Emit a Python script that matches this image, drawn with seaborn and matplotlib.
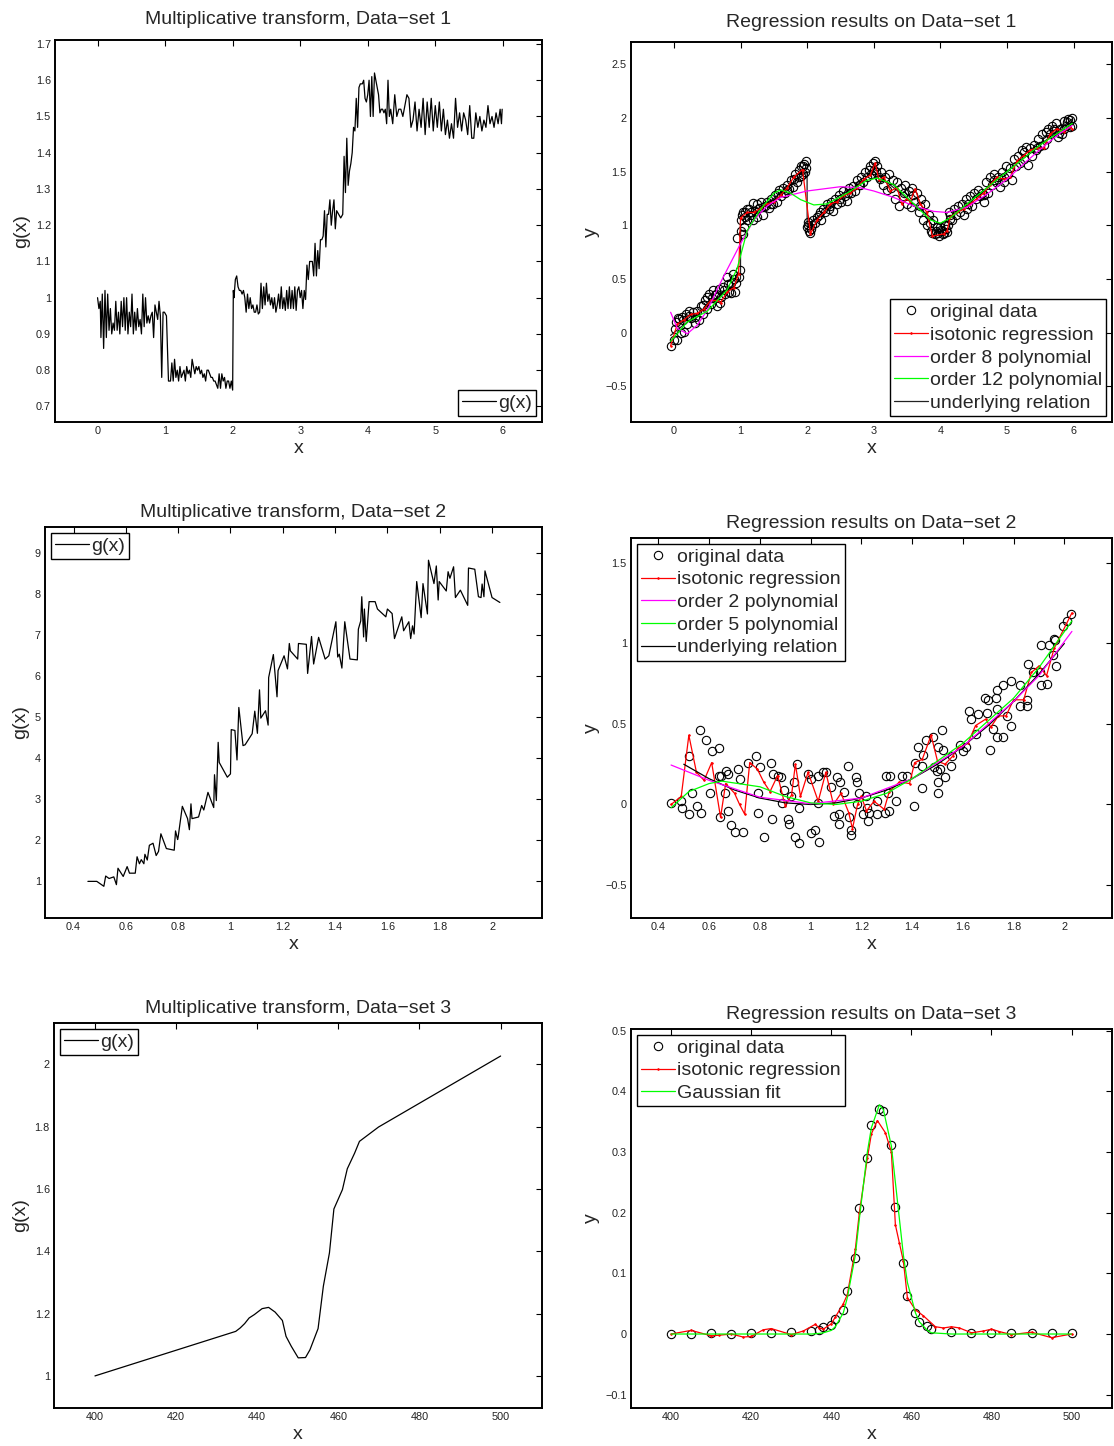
import matplotlib
matplotlib.use("Agg")
import matplotlib.pyplot as plt
import matplotlib.ticker as mticker
import seaborn as sns

sns.set_style("white")
plt.rcParams['font.family'] = ['Liberation Sans', 'DejaVu Sans']
plt.rcParams['axes.unicode_minus'] = True

# ---------------- Data-set 1 : multiplicative transform g(x) ----------------
g1_x = [0.00, 0.02, 0.04, 0.05, 0.07, 0.09, 0.11, 0.13, 0.15, 0.17, 0.19, 0.21, 0.23, 0.25, 0.27, 0.29,
        0.31, 0.33, 0.35, 0.37, 0.39, 0.41, 0.43, 0.45, 0.47, 0.49, 0.51, 0.53, 0.55, 0.57, 0.59, 0.61,
        0.63, 0.65, 0.67, 0.69, 0.71, 0.73, 0.75, 0.77, 0.79, 0.81, 0.83, 0.85, 0.87, 0.89, 0.91, 0.93,
        0.95, 0.97, 0.99, 1.02, 1.05,
        1.08, 1.10, 1.12, 1.14, 1.16, 1.18, 1.20, 1.22, 1.24, 1.26, 1.28, 1.30, 1.32, 1.34, 1.36, 1.38,
        1.40, 1.42, 1.44, 1.46, 1.48, 1.50, 1.52, 1.54, 1.56, 1.58, 1.60, 1.62, 1.64, 1.66, 1.68, 1.70,
        1.72, 1.74, 1.76, 1.78, 1.80, 1.82, 1.84, 1.86, 1.88, 1.90, 1.92, 1.94, 1.96, 1.98, 2.00,
        2.01, 2.02, 2.04, 2.06, 2.08, 2.10, 2.12, 2.14, 2.16, 2.18, 2.20, 2.22, 2.24, 2.26, 2.28, 2.30,
        2.32, 2.34, 2.36, 2.38, 2.40, 2.42, 2.44, 2.46, 2.48, 2.50, 2.52, 2.54, 2.56, 2.58, 2.60, 2.62,
        2.64, 2.66, 2.68, 2.70, 2.72, 2.74, 2.76, 2.78, 2.80, 2.82, 2.84, 2.86, 2.88, 2.90, 2.92, 2.94,
        2.96, 2.98, 3.00, 3.02, 3.04, 3.06, 3.08,
        3.10, 3.12, 3.14, 3.16, 3.18, 3.20, 3.22, 3.24, 3.26, 3.28, 3.30, 3.32, 3.34, 3.36, 3.38, 3.40,
        3.42, 3.44, 3.46, 3.48, 3.50, 3.52, 3.54, 3.57, 3.60, 3.63, 3.65, 3.67, 3.69, 3.71, 3.73, 3.75,
        3.77, 3.79, 3.81, 3.83, 3.85, 3.87, 3.89, 3.92, 3.94, 3.96, 3.98, 4.00, 4.02, 4.04, 4.06, 4.08,
        4.10, 4.12, 4.14, 4.16, 4.18, 4.20, 4.22, 4.24, 4.26, 4.28, 4.30, 4.32,
        4.34, 4.37, 4.40, 4.43, 4.46, 4.49, 4.52, 4.55, 4.58, 4.61, 4.64, 4.67, 4.70, 4.73, 4.76, 4.79,
        4.82, 4.85, 4.88, 4.91, 4.94, 4.97, 5.00, 5.03, 5.06, 5.09, 5.12, 5.15, 5.18, 5.21, 5.24, 5.27,
        5.30, 5.33, 5.36, 5.39, 5.42, 5.45, 5.48, 5.51, 5.54, 5.57, 5.60, 5.63, 5.66, 5.69, 5.72, 5.75,
        5.78, 5.81, 5.84, 5.87, 5.90, 5.93, 5.96, 5.98, 5.99]
g1_y = [1.00, 0.97, 0.99, 0.89, 1.01, 0.86, 1.02, 0.89, 1.01, 0.91, 0.97, 0.90, 0.93, 0.91, 0.99, 0.91,
        0.96, 0.90, 0.99, 0.92, 1.00, 0.91, 1.00, 0.90, 0.96, 0.92, 1.01, 0.90, 0.96, 0.91, 0.97, 0.92,
        0.94, 0.90, 1.01, 0.92, 1.00, 0.93, 0.95, 0.93, 0.95, 0.96, 0.89, 0.98, 0.96, 0.94, 0.99, 0.95,
        0.78, 0.96, 0.96, 0.95, 0.77,
        0.77, 0.82, 0.77, 0.83, 0.78, 0.80, 0.77, 0.81, 0.78, 0.79, 0.80, 0.77, 0.81, 0.79, 0.80, 0.78,
        0.83, 0.81, 0.79, 0.81, 0.80, 0.81, 0.79, 0.80, 0.78, 0.79, 0.77, 0.80, 0.80, 0.79, 0.78, 0.78,
        0.77, 0.77, 0.76, 0.75, 0.79, 0.75, 0.79, 0.77, 0.78, 0.75, 0.77, 0.77, 0.75, 0.77, 0.745,
        1.02, 1.00, 1.05, 1.06, 1.03, 1.02, 1.02, 1.01, 1.02, 1.00, 0.96, 1.01, 0.97, 1.00, 0.97, 0.98,
        0.96, 0.96, 0.98, 0.955, 0.96, 1.04, 0.97, 1.03, 0.98, 1.04, 0.99, 1.01, 0.98, 1.00, 0.97, 1.00,
        0.96, 0.98, 1.01, 0.97, 1.03, 0.97, 1.00, 0.965, 1.02, 0.97, 1.03, 0.97, 1.02, 0.97, 1.03, 0.965,
        1.02, 1.03, 1.00, 1.02, 0.97, 1.02, 0.995,
        1.09, 1.05, 1.10, 1.10, 1.10, 1.06, 1.15, 1.06, 1.13, 1.08, 1.16, 1.16, 1.17, 1.24, 1.14, 1.23,
        1.23, 1.27, 1.20, 1.24, 1.27, 1.19, 1.24, 1.23, 1.22, 1.23, 1.39, 1.29, 1.44, 1.31, 1.35, 1.37,
        1.40, 1.47, 1.46, 1.55, 1.47, 1.58, 1.59, 1.59, 1.60, 1.55, 1.54, 1.56, 1.60, 1.50, 1.61, 1.50,
        1.62, 1.60, 1.58, 1.56, 1.51, 1.52, 1.52, 1.51, 1.52, 1.48, 1.60, 1.50,
        1.52, 1.48, 1.56, 1.50, 1.52, 1.52, 1.50, 1.53, 1.56, 1.55, 1.47, 1.49, 1.54, 1.46, 1.52, 1.47,
        1.55, 1.45, 1.54, 1.47, 1.55, 1.46, 1.53, 1.47, 1.54, 1.46, 1.52, 1.45, 1.49, 1.44, 1.48, 1.44,
        1.55, 1.47, 1.51, 1.46, 1.51, 1.49, 1.45, 1.53, 1.44, 1.44, 1.51, 1.47, 1.50, 1.46, 1.49, 1.47,
        1.53, 1.48, 1.50, 1.47, 1.51, 1.48, 1.52, 1.48, 1.52]

# ---------------- Data-set 1 : regression results ----------------
d1_x = [-0.05, 0.00, 0.02, 0.05, 0.08, 0.10, 0.12, 0.15, 0.18, 0.20, 0.23, 0.26, 0.29, 0.32, 0.35, 0.38,
        0.40, 0.43, 0.46, 0.49, 0.52, 0.55, 0.58, 0.61, 0.64, 0.67, 0.70, 0.73, 0.76, 0.79, 0.82, 0.85,
        0.88, 0.91, 0.95, 0.97, 0.99,
        1.00, 1.01, 1.03, 1.05, 1.07, 1.10, 1.13, 1.16, 1.19, 1.22, 1.25, 1.28, 1.31, 1.34, 1.37, 1.40,
        1.43, 1.46, 1.49, 1.52, 1.55, 1.58, 1.61, 1.64, 1.67, 1.70, 1.73, 1.76, 1.79, 1.82, 1.85, 1.88,
        1.91, 1.94, 1.97, 1.99,
        2.00, 2.02, 2.04, 2.06, 2.09, 2.12, 2.15, 2.18, 2.21, 2.24, 2.27, 2.30, 2.33, 2.36, 2.39, 2.42,
        2.45, 2.48, 2.51, 2.54, 2.57, 2.60, 2.63, 2.66, 2.69, 2.72, 2.75, 2.78, 2.81, 2.84, 2.87, 2.90,
        2.93, 2.96, 2.99, 3.02,
        3.05, 3.08, 3.11, 3.14, 3.17, 3.20, 3.23, 3.26, 3.29, 3.32, 3.35, 3.38, 3.41, 3.44, 3.47, 3.50,
        3.53, 3.56, 3.59, 3.62, 3.65, 3.68, 3.71, 3.74, 3.77, 3.80, 3.83, 3.86, 3.89, 3.92, 3.95, 3.98,
        4.01, 4.04, 4.07, 4.10, 4.13,
        4.15, 4.18, 4.21, 4.24, 4.27, 4.30, 4.33, 4.36, 4.39, 4.42, 4.45, 4.48, 4.51, 4.54, 4.57, 4.60,
        4.63, 4.66, 4.69, 4.72, 4.75, 4.78, 4.81, 4.84, 4.87, 4.90, 4.93, 4.96, 4.99, 5.02, 5.05, 5.08,
        5.11, 5.14, 5.17, 5.20, 5.23, 5.26, 5.29, 5.32, 5.35, 5.38, 5.41, 5.44, 5.47, 5.50, 5.53, 5.56,
        5.59, 5.62, 5.65, 5.68, 5.71, 5.74, 5.77, 5.80, 5.83, 5.86, 5.89, 5.92, 5.95, 5.98,
        0.03, 0.06, 0.14, 0.22, 0.31, 0.44, 0.50, 0.57, 0.63, 0.69, 0.75, 0.81, 0.86, 0.90, 0.93,
        1.02, 1.04, 1.06, 1.09, 1.15, 1.18, 1.24, 1.33, 1.45, 1.56, 1.69, 1.80, 1.87, 1.90, 1.93, 1.96, 1.98,
        2.01, 2.03, 2.08, 2.20, 2.35, 2.50, 2.62, 2.80, 2.95, 3.00, 3.03, 3.10,
        3.45, 3.58, 3.70, 3.85, 3.88, 3.93, 3.97, 4.00, 4.03, 4.06, 4.09, 4.12, 4.14,
        4.40, 4.65, 4.80, 4.95, 5.25, 5.45, 5.60, 5.70, 5.78, 5.85, 5.90, 5.94, 5.97]
d1_y = [-0.12, -0.07, 0.03, -0.07, 0.13, 0.00, 0.15, 0.01, 0.17, 0.08, 0.20, 0.14, 0.19, 0.09, 0.20, 0.12,
        0.25, 0.17, 0.30, 0.22, 0.36, 0.27, 0.40, 0.35, 0.25, 0.41, 0.33, 0.43, 0.36, 0.52, 0.38, 0.46,
        0.55, 0.38, 0.88, 0.52, 0.58,
        0.95, 1.05, 1.12, 0.98, 1.12, 1.05, 1.15, 1.10, 1.21, 1.13, 1.08, 1.16, 1.22, 1.10, 1.18, 1.22,
        1.16, 1.25, 1.20, 1.28, 1.22, 1.33, 1.27, 1.35, 1.30, 1.38, 1.34, 1.42, 1.36, 1.48, 1.40, 1.52,
        1.46, 1.55, 1.50, 1.60,
        0.98, 1.03, 0.93, 0.97, 1.05, 1.02, 1.08, 1.10, 1.05, 1.15, 1.12, 1.20, 1.15, 1.22, 1.13, 1.25,
        1.20, 1.28, 1.22, 1.32, 1.27, 1.23, 1.35, 1.30, 1.37, 1.32, 1.42, 1.38, 1.45, 1.40, 1.50, 1.45,
        1.52, 1.48, 1.58, 1.60,
        1.55, 1.45, 1.50, 1.38, 1.45, 1.33, 1.48, 1.35, 1.42, 1.25, 1.40, 1.18, 1.35, 1.27, 1.38, 1.20,
        1.32, 1.17, 1.28, 1.22, 1.30, 1.12, 1.25, 1.05, 1.20, 1.00, 1.10, 0.95, 1.05, 0.92, 0.98, 0.90,
        0.96, 0.92, 1.00, 0.94, 1.12,
        1.10, 1.05, 1.15, 1.10, 1.18, 1.12, 1.20, 1.10, 1.25, 1.20, 1.27, 1.18, 1.30, 1.25, 1.33, 1.27,
        1.30, 1.22, 1.40, 1.30, 1.45, 1.38, 1.48, 1.40, 1.45, 1.36, 1.50, 1.45, 1.55, 1.48, 1.53, 1.42,
        1.62, 1.55, 1.65, 1.58, 1.70, 1.62, 1.73, 1.56, 1.72, 1.65, 1.75, 1.70, 1.80, 1.74, 1.85, 1.75,
        1.87, 1.90, 1.85, 1.93, 1.88, 1.95, 1.82, 1.90, 1.85, 1.97, 1.93, 1.99, 1.92, 2.00,
        0.10, 0.14, 0.12, 0.16, 0.15, 0.26, 0.33, 0.32, 0.36, 0.28, 0.40, 0.45, 0.37, 0.50, 0.46,
        1.10, 0.92, 1.08, 1.15, 1.12, 1.05, 1.20, 1.17, 1.20, 1.30, 1.33, 1.43, 1.45, 1.55, 1.48, 1.57, 1.53,
        1.00, 0.95, 1.00, 1.12, 1.18, 1.25, 1.30, 1.38, 1.55, 1.52, 1.50, 1.43,
        1.30, 1.35, 1.18, 1.02, 0.93, 0.95, 0.93, 0.98, 0.95, 0.93, 0.97, 1.00, 1.06,
        1.15, 1.28, 1.42, 1.40, 1.68, 1.72, 1.80, 1.90, 1.86, 1.90, 1.96, 1.98, 1.93]

iso1_x = [-0.05, 0.05, 0.15, 0.25, 0.35, 0.45, 0.55, 0.65, 0.70, 0.80, 0.90, 0.97, 1.00, 1.10, 1.20, 1.30,
          1.40, 1.50, 1.60, 1.70, 1.80, 1.93, 2.05, 2.15, 2.25, 2.35, 2.45, 2.55, 2.65, 2.75, 2.85, 2.95,
          3.02, 3.08, 3.15, 3.25, 3.35, 3.42, 3.50, 3.55, 3.62, 3.70, 3.80, 3.88, 4.05, 4.10, 4.15, 4.25,
          4.35, 4.45, 4.55, 4.65, 4.75, 4.85, 4.95, 5.05, 5.15, 5.25, 5.35, 5.45, 5.55, 5.65, 5.75, 5.85,
          5.95, 5.98]
iso1_y = [-0.12, 0.08, 0.12, 0.17, 0.18, 0.22, 0.30, 0.30, 0.28, 0.38, 0.42, 0.55, 1.07, 1.12, 1.12, 1.16,
          1.20, 1.22, 1.28, 1.35, 1.45, 1.52, 0.92, 1.05, 1.12, 1.20, 1.22, 1.28, 1.30, 1.35, 1.43, 1.47,
          1.58, 1.42, 1.45, 1.32, 1.35, 1.20, 1.25, 1.22, 1.34, 1.20, 1.12, 0.90, 0.92, 0.95, 1.08, 1.12,
          1.15, 1.20, 1.25, 1.30, 1.38, 1.45, 1.43, 1.45, 1.60, 1.65, 1.70, 1.72, 1.72, 1.85, 1.90, 1.87,
          1.92, 1.90]

p8_x = [-0.05, 0.05, 0.20, 0.35, 0.50, 0.75, 1.00, 1.20, 1.40, 1.60, 2.00, 2.50, 2.80, 3.00, 3.30, 3.60,
        3.90, 4.10, 4.40, 4.70, 5.00, 5.30, 5.60, 5.80, 5.98]
p8_y = [0.19, 0.04, -0.01, 0.07, 0.21, 0.53, 0.83, 1.05, 1.18, 1.26, 1.32, 1.36, 1.35, 1.32, 1.26, 1.18,
        1.13, 1.12, 1.17, 1.29, 1.43, 1.60, 1.76, 1.86, 1.93]

p12_x = [-0.05, 0.20, 0.50, 0.80, 0.95, 1.10, 1.30, 1.50, 1.60, 1.75, 1.90, 2.10, 2.30, 2.60, 2.90, 3.05,
         3.30, 3.60, 3.85, 4.00, 4.15, 4.50, 5.00, 5.50, 5.98]
p12_y = [-0.08, 0.10, 0.20, 0.40, 0.60, 0.95, 1.15, 1.30, 1.33, 1.30, 1.24, 1.19, 1.20, 1.30, 1.42, 1.44,
         1.38, 1.20, 1.05, 1.02, 1.07, 1.25, 1.50, 1.75, 1.95]

true1_x = [-0.05, 0.999, 1.0, 1.999, 2.0, 3.0, 4.0, 5.98]
true1_y = [-0.025, 0.50, 1.00, 1.50, 1.00, 1.50, 1.00, 1.99]

# ---------------- Data-set 2 : multiplicative transform ----------------
g2_x = [0.455, 0.489, 0.516, 0.523, 0.536, 0.554, 0.564, 0.570, 0.590, 0.605, 0.614, 0.636, 0.643, 0.652,
        0.659, 0.669, 0.673, 0.682, 0.690, 0.704, 0.716, 0.725, 0.734, 0.755, 0.785, 0.790, 0.798, 0.800,
        0.816, 0.836, 0.843, 0.849, 0.853, 0.878, 0.890, 0.898, 0.914, 0.936, 0.939, 0.946, 0.953, 0.957,
        0.988, 1.000, 1.003, 1.017, 1.025, 1.032, 1.048, 1.056, 1.083, 1.093, 1.103, 1.111, 1.116, 1.134,
        1.144, 1.146, 1.164, 1.178, 1.182, 1.205, 1.218, 1.225, 1.229, 1.257, 1.260, 1.290, 1.295, 1.310,
        1.318, 1.337, 1.362, 1.376, 1.403, 1.410, 1.416, 1.426, 1.437, 1.457, 1.485, 1.489, 1.498, 1.502,
        1.509, 1.512, 1.519, 1.530, 1.553, 1.562, 1.594, 1.600, 1.618, 1.627, 1.655, 1.662, 1.682, 1.689,
        1.696, 1.702, 1.712, 1.729, 1.736, 1.753, 1.757, 1.778, 1.787, 1.794, 1.798, 1.825, 1.832, 1.839,
        1.853, 1.860, 1.879, 1.907, 1.910, 1.934, 1.948, 1.958, 1.962, 1.969, 1.973, 2.000, 2.030]
g2_y = [1.00, 1.00, 0.88, 1.13, 1.07, 1.11, 0.92, 1.32, 1.12, 1.36, 1.20, 1.20, 1.60, 1.43,
        1.53, 1.43, 1.66, 1.52, 1.88, 1.93, 1.63, 1.73, 2.16, 1.80, 1.76, 2.23, 2.02, 2.08,
        2.83, 2.53, 2.26, 2.89, 2.53, 2.57, 2.85, 2.74, 3.17, 2.80, 3.60, 2.97, 4.39, 3.90,
        3.54, 3.62, 4.70, 4.68, 3.96, 5.24, 4.31, 4.33, 4.60, 5.15, 4.61, 5.67, 4.98, 5.16,
        4.81, 5.97, 6.53, 5.50, 6.14, 6.50, 6.18, 6.80, 6.62, 6.42, 6.80, 6.78, 6.07, 6.97,
        6.30, 6.95, 6.42, 6.50, 7.33, 6.47, 6.54, 6.20, 7.33, 6.42, 6.40, 7.15, 7.35, 7.94,
        6.96, 7.64, 6.85, 7.82, 7.82, 7.64, 7.45, 7.64, 7.53, 6.92, 7.45, 7.11, 7.33, 6.92,
        7.23, 7.03, 8.31, 7.43, 8.26, 7.52, 8.83, 8.26, 8.69, 7.86, 8.31, 8.08, 8.55, 8.39,
        8.67, 7.92, 8.10, 7.73, 8.64, 8.61, 7.94, 7.92, 8.25, 7.94, 8.57, 7.92, 7.80]

# ---------------- Data-set 2 : regression results ----------------
d2_x = [0.450, 0.490, 0.493, 0.519, 0.519, 0.533, 0.554, 0.565, 0.569, 0.588, 0.604, 0.611, 0.638, 0.638,
        0.642, 0.646, 0.663, 0.665, 0.675, 0.675, 0.688, 0.701, 0.715, 0.722, 0.733, 0.754, 0.786, 0.792,
        0.792, 0.800, 0.815, 0.843, 0.847, 0.850, 0.871, 0.882, 0.889, 0.894, 0.910, 0.914, 0.924, 0.935,
        0.939, 0.946, 0.953, 0.954, 0.989, 1.000, 1.003, 1.017, 1.028, 1.031, 1.033, 1.049, 1.060, 1.081,
        1.092, 1.103, 1.111, 1.111, 1.115, 1.133, 1.146, 1.150, 1.160, 1.161, 1.178, 1.181, 1.181, 1.189,
        1.206, 1.217, 1.222, 1.226, 1.231, 1.260, 1.263, 1.294, 1.297, 1.306, 1.310, 1.314, 1.336, 1.361,
        1.379, 1.407, 1.410, 1.424, 1.438, 1.438, 1.444, 1.456, 1.483, 1.486, 1.500, 1.503, 1.503, 1.503,
        1.511, 1.517, 1.521, 1.528, 1.553, 1.556, 1.590, 1.600, 1.614, 1.625, 1.633, 1.653, 1.660, 1.688,
        1.694, 1.701, 1.708, 1.718, 1.731, 1.733, 1.736, 1.736, 1.757, 1.757, 1.775, 1.789, 1.789, 1.824,
        1.826, 1.854, 1.854, 1.856, 1.875, 1.903, 1.907, 1.910, 1.931, 1.940, 1.958, 1.956, 1.964, 1.969,
        1.993, 2.011, 2.028]
d2_y = [0.01, 0.02, -0.02, -0.06, 0.30, 0.07, -0.01, 0.46, -0.05, 0.40, 0.07, 0.33, 0.35, 0.18,
        -0.08, 0.18, 0.07, 0.21, 0.19, -0.04, -0.13, -0.17, 0.22, 0.16, -0.17, 0.26, 0.30, 0.07,
        -0.05, 0.23, -0.20, 0.26, -0.09, 0.19, 0.18, 0.17, 0.01, 0.09, -0.09, -0.12, 0.05, 0.14,
        -0.20, 0.25, -0.24, -0.02, 0.19, -0.18, 0.16, -0.16, 0.18, 0.01, -0.23, 0.20, 0.20, 0.11,
        -0.07, 0.17, -0.06, -0.12, 0.14, 0.08, 0.24, -0.08, -0.16, -0.19, 0.17, 0.14, 0.00, 0.07,
        -0.06, 0.05, -0.02, -0.10, -0.05, 0.02, -0.06, -0.05, 0.18, 0.07, -0.04, 0.18, 0.02, 0.18,
        0.18, -0.01, 0.26, 0.36, 0.10, 0.24, 0.31, 0.40, 0.42, 0.23, 0.21, 0.36, 0.14, 0.07,
        0.22, 0.46, 0.34, 0.17, 0.24, 0.30, 0.37, 0.33, 0.36, 0.58, 0.53, 0.44, 0.56, 0.66,
        0.57, 0.65, 0.34, 0.47, 0.66, 0.59, 0.71, 0.42, 0.42, 0.74, 0.55, 0.77, 0.49, 0.74,
        0.61, 0.65, 0.61, 0.87, 0.82, 0.82, 0.99, 0.74, 0.75, 0.99, 1.03, 0.93, 1.02, 0.86,
        1.11, 1.14, 1.18]

iso2_x = [0.45, 0.49, 0.52, 0.55, 0.58, 0.61, 0.645, 0.665, 0.70, 0.72, 0.74, 0.76, 0.79, 0.815, 0.84,
          0.87, 0.90, 0.925, 0.94, 0.96, 0.99, 1.03, 1.06, 1.09, 1.12, 1.15, 1.165, 1.185, 1.20, 1.22,
          1.25, 1.29, 1.31, 1.35, 1.39, 1.41, 1.44, 1.475, 1.50, 1.53, 1.56, 1.58, 1.62, 1.65, 1.69, 1.71,
          1.74, 1.77, 1.80, 1.84, 1.87, 1.90, 1.93, 1.96, 2.03]
iso2_y = [0.00, 0.05, 0.43, 0.20, 0.15, 0.26, -0.08, 0.13, 0.07, 0.00, -0.06, 0.26, 0.22, 0.14, 0.08,
          0.18, -0.01, 0.06, 0.25, 0.05, 0.20, 0.02, 0.20, 0.00, 0.07, -0.05, -0.15, 0.00, 0.05, -0.04,
          0.02, -0.03, 0.08, 0.14, 0.13, 0.26, 0.28, 0.43, 0.27, 0.25, 0.30, 0.35, 0.38, 0.49, 0.53, 0.48,
          0.55, 0.55, 0.65, 0.65, 0.82, 0.86, 0.80, 0.97, 1.19]

p2_x = [0.45, 0.60, 0.80, 1.00, 1.20, 1.40, 1.60, 1.80, 1.90, 2.03]
p2_y = [0.245, 0.15, 0.045, 0.005, 0.04, 0.16, 0.36, 0.64, 0.80, 1.075]

p5_x = [0.45, 0.52, 0.60, 0.65, 0.80, 0.90, 1.00, 1.10, 1.20, 1.30, 1.40, 1.50, 1.60, 1.70, 1.80, 1.90, 2.03]
p5_y = [-0.02, 0.08, 0.13, 0.145, 0.11, 0.05, 0.01, 0.00, 0.02, 0.07, 0.16, 0.27, 0.38, 0.52, 0.66, 0.85, 1.14]

true2_x = [0.50, 0.60, 0.70, 0.80, 0.90, 1.00, 1.10, 1.20, 1.30, 1.40, 1.50, 1.60, 1.70, 1.80, 1.90, 2.00]
true2_y = [0.25, 0.16, 0.09, 0.04, 0.01, 0.00, 0.01, 0.04, 0.09, 0.16, 0.25, 0.36, 0.49, 0.64, 0.81, 1.00]

# ---------------- Data-set 3 : multiplicative transform ----------------
g3_x = [400.0, 434.7, 435.8, 436.9, 438.0, 439.3, 441.2, 442.8, 444.4, 446.2, 447.1, 448.4, 450.1, 451.9,
        453.0, 455.0, 456.3, 457.8, 458.9, 461.0, 462.2, 464.0, 465.2, 469.9, 500.0]
g3_y = [1.000, 1.143, 1.154, 1.168, 1.186, 1.197, 1.216, 1.220, 1.205, 1.178, 1.127, 1.095, 1.058, 1.059,
        1.084, 1.152, 1.288, 1.395, 1.536, 1.598, 1.665, 1.715, 1.753, 1.799, 2.027]

# ---------------- Data-set 3 : regression results ----------------
d3_x = [400, 405, 410, 415, 420, 425, 430, 435, 437, 438, 440, 441, 443, 444, 446, 447, 449, 450, 452,
        453, 455, 456, 458, 459, 461, 462, 464, 465, 470, 475, 480, 485, 490, 495, 500]
d3_y = [0.000, 0.000, 0.001, 0.000, 0.001, 0.002, 0.003, 0.005, 0.007, 0.011, 0.015, 0.024, 0.040, 0.071,
        0.126, 0.207, 0.290, 0.345, 0.371, 0.367, 0.312, 0.209, 0.117, 0.062, 0.035, 0.020, 0.013, 0.008,
        0.003, 0.001, 0.001, 0.001, 0.001, 0.001, 0.001]

iso3_x = [400, 405, 410, 412, 415, 418, 420, 423, 425, 430, 433, 436, 437, 438, 440, 441, 443, 444, 446,
          447, 449, 450, 451.5, 453.5, 455, 456, 457, 458, 459, 461, 463, 466, 468, 470, 472, 475, 478,
          480, 482, 485, 490, 495, 500]
iso3_y = [0.000, 0.006, -0.003, -0.002, 0.000, -0.005, -0.004, 0.007, 0.009, -0.001, 0.005, 0.016, 0.010,
          0.008, 0.017, 0.028, 0.050, 0.065, 0.140, 0.200, 0.290, 0.330, 0.352, 0.332, 0.300, 0.180, 0.150,
          0.120, 0.060, 0.040, 0.030, 0.012, 0.010, 0.012, 0.010, 0.002, 0.005, 0.008, 0.004, -0.001,
          0.003, -0.006, 0.000]

gauss_x = [400, 410, 420, 430, 435, 437, 438, 440, 441, 443, 444, 446, 447, 449, 450, 452, 453, 455, 456,
           458, 459, 461, 462, 464, 465, 470, 480, 490, 500]
gauss_y = [0.000, 0.000, 0.000, 0.000, 0.000, 0.001, 0.002, 0.006, 0.012, 0.035, 0.060, 0.130, 0.190,
           0.300, 0.340, 0.378, 0.370, 0.310, 0.250, 0.130, 0.085, 0.035, 0.020, 0.006, 0.002, 0.000,
           0.000, 0.000, 0.000]

TITLES = ["Multiplicative transform, Data\u2212set 1", "Regression results on Data\u2212set 1",
          "Multiplicative transform, Data\u2212set 2", "Regression results on Data\u2212set 2",
          "Multiplicative transform, Data\u2212set 3", "Regression results on Data\u2212set 3"]

RED, MAG, GRN = "#ff0000", "#ff00ff", "#00ff00"

W, H = 1114, 1446
fig = plt.figure(figsize=(W / 100, H / 100), dpi=100)


def add_ax(l, r, t, b):
    return fig.add_axes([l / W, 1 - b / H, (r - l) / W, (b - t) / H])


fmt = mticker.FuncFormatter(lambda v, p: ('%g' % round(v, 6)).replace('-', '\u2212'))


def style(ax, xlim, ylim, xticks, yticks, title, ylabel, tpad=7):
    ax.set_xlim(xlim)
    ax.set_ylim(ylim)
    ax.set_xticks(xticks)
    ax.set_yticks(yticks)
    ax.xaxis.set_major_formatter(fmt)
    ax.yaxis.set_major_formatter(fmt)
    ax.tick_params(direction='in', length=4, width=0.8, top=True, right=True,
                   labelsize=7.8, pad=3, colors='k', labelcolor='#222222')
    for s in ax.spines.values():
        s.set_visible(True)
        s.set_linewidth(1.4)
        s.set_color('k')
    ax.set_title(title, fontsize=14, pad=tpad)
    ax.set_xlabel('x', fontsize=14, labelpad=2.5)
    ax.set_ylabel(ylabel, fontsize=14, labelpad=4)


def line(ax, x, y, color, lw=0.9, z=2, **kw):
    sns.lineplot(x=x, y=y, sort=False, estimator=None, color=color, lw=lw, ax=ax,
                 legend=False, zorder=z, **kw)
    return ax.lines[-1]


def iso_line(ax, x, y):
    return line(ax, x, y, RED, lw=0.9, marker='.', ms=2.5, mec=RED, mfc=RED, mew=0.5)


def circles(ax, x, y):
    sns.lineplot(x=x, y=y, sort=False, estimator=None, color='k', ax=ax, legend=False,
                 marker='o', linestyle='', mfc='none', mec='k', ms=6, mew=0.8, zorder=2)
    return ax.lines[-1]


def legend(ax, handles, labels, loc):
    leg = ax.legend(handles, labels, loc=loc, fontsize=14, frameon=True, fancybox=False,
                    edgecolor='k', framealpha=1, borderpad=0.22, labelspacing=0.26,
                    handlelength=1.75, handletextpad=0.1, borderaxespad=0.3)
    leg.get_frame().set_linewidth(1.0)
    return leg


# Panel 1
ax1 = add_ax(55, 542, 40, 422)
h = line(ax1, g1_x, g1_y, 'k', lw=0.9)
style(ax1, (-0.63, 6.58), (0.657, 1.711), [0, 1, 2, 3, 4, 5, 6],
      [0.7, 0.8, 0.9, 1.0, 1.1, 1.2, 1.3, 1.4, 1.5, 1.6, 1.7], TITLES[0], 'g(x)', tpad=11.5)
legend(ax1, [h], ['g(x)'], 'lower right')

# Panel 2
ax2 = add_ax(631, 1112, 42, 422)
h0 = circles(ax2, d1_x, d1_y)
h4 = line(ax2, true1_x, true1_y, '#222222', lw=0.9, z=1.5)
h1 = iso_line(ax2, iso1_x, iso1_y)
h2 = line(ax2, p8_x, p8_y, MAG, lw=0.9)
h3 = line(ax2, p12_x, p12_y, GRN, lw=0.9)
style(ax2, (-0.645, 6.577), (-0.832, 2.708), [0, 1, 2, 3, 4, 5, 6],
      [-0.5, 0, 0.5, 1, 1.5, 2, 2.5], TITLES[1], 'y', tpad=10.5)
legend(ax2, [h0, h1, h2, h3, h4], ['original data', 'isotonic regression', 'order 8 polynomial',
                                   'order 12 polynomial', 'underlying relation'], 'lower right')

# Panel 3
ax3 = add_ax(45, 542, 527, 918)
h = line(ax3, g2_x, g2_y, 'k', lw=0.9)
style(ax3, (0.291, 2.191), (0.107, 9.64), [0.4, 0.6, 0.8, 1.0, 1.2, 1.4, 1.6, 1.8, 2.0],
      [1, 2, 3, 4, 5, 6, 7, 8, 9], TITLES[2], 'g(x)')
legend(ax3, [h], ['g(x)'], 'upper left')

# Panel 4
ax4 = add_ax(631, 1112, 538, 918)
h0 = circles(ax4, d2_x, d2_y)
h1 = iso_line(ax4, iso2_x, iso2_y)
h4 = line(ax4, true2_x, true2_y, 'k', lw=0.9)
h2 = line(ax4, p2_x, p2_y, MAG, lw=0.9)
h3 = line(ax4, p5_x, p5_y, GRN, lw=0.9)
style(ax4, (0.292, 2.188), (-0.705, 1.655), [0.4, 0.6, 0.8, 1.0, 1.2, 1.4, 1.6, 1.8, 2.0],
      [-0.5, 0, 0.5, 1, 1.5], TITLES[3], 'y')
legend(ax4, [h0, h1, h2, h3, h4], ['original data', 'isotonic regression', 'order 2 polynomial',
                                   'order 5 polynomial', 'underlying relation'], 'upper left')

# Panel 5
ax5 = add_ax(54, 542, 1023, 1408)
h = line(ax5, g3_x, g3_y, 'k', lw=0.9)
style(ax5, (389.9, 510.2), (0.897, 2.133), [400, 420, 440, 460, 480, 500],
      [1, 1.2, 1.4, 1.6, 1.8, 2], TITLES[4], 'g(x)')
legend(ax5, [h], ['g(x)'], 'upper left')

# Panel 6
ax6 = add_ax(631, 1112, 1029, 1408)
h0 = circles(ax6, d3_x, d3_y)
h1 = iso_line(ax6, iso3_x, iso3_y)
h2 = line(ax6, gauss_x, gauss_y, GRN, lw=0.9)
style(ax6, (389.97, 510.1), (-0.122, 0.503), [400, 420, 440, 460, 480, 500],
      [-0.1, 0, 0.1, 0.2, 0.3, 0.4, 0.5], TITLES[5], 'y')
legend(ax6, [h0, h1, h2], ['original data', 'isotonic regression', 'Gaussian fit'], 'upper left')

fig.savefig('out.png', dpi=100)
